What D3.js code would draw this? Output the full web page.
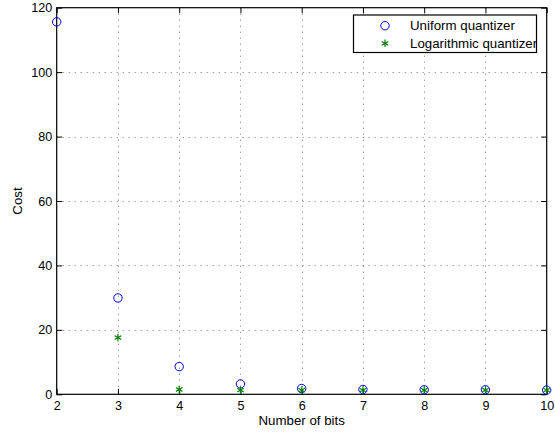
<!DOCTYPE html>
<html>
<head>
<meta charset="utf-8">
<script src="https://cdn.jsdelivr.net/npm/d3@7"></script>
<style>
  body { margin: 0; background: #fff; }
  text { font-family: "Liberation Sans", Arial, Helvetica, sans-serif; }
</style>
</head>
<body>
<svg id="chart" width="555" height="436"></svg>
<script>
// data
const bits = [2, 3, 4, 5, 6, 7, 8, 9, 10];
const uniformCost = [115.6, 29.9, 8.6, 3.2, 1.8, 1.5, 1.4, 1.4, 1.3];
const logBits = [3, 4, 5, 6, 7, 8, 9, 10];
const logCost = [17.6, 1.5, 1.3, 1.3, 1.3, 1.3, 1.3, 1.3];
const xTicks = [2, 3, 4, 5, 6, 7, 8, 9, 10];
const yTicks = [0, 20, 40, 60, 80, 100, 120];
const seriesNames = ["Uniform quantizer", "Logarithmic quantizer"];

// plot box
const box = { left: 56.7, right: 546.7, top: 7.7, bottom: 394.3 };

const svg = d3.select("#chart");

const x = d3.scaleLinear().domain([2, 10]).range([box.left, box.right]);
const y = d3.scaleLinear().domain([0, 120]).range([box.bottom, box.top]);

// grid (dotted, grey)
const grid = svg.append("g").attr("class", "grid");
grid.selectAll("line.gx").data(xTicks.slice(1, -1)).join("line")
  .attr("class", "gx")
  .attr("x1", d => Math.round(x(d)) + 0.5).attr("x2", d => Math.round(x(d)) + 0.5)
  .attr("y1", box.top).attr("y2", box.bottom)
  .attr("stroke", "#777").attr("stroke-width", 1)
  .attr("stroke-dasharray", "1,5");
grid.selectAll("line.gy").data(yTicks.slice(1, -1)).join("line")
  .attr("class", "gy")
  .attr("x1", box.left).attr("x2", box.right)
  .attr("y1", d => Math.round(y(d)) + 0.5).attr("y2", d => Math.round(y(d)) + 0.5)
  .attr("stroke", "#777").attr("stroke-width", 1)
  .attr("stroke-dasharray", "1,5");

// axes, ticks pointing inward
const fmt = d3.format("d");
svg.append("g")
  .attr("transform", `translate(0,${box.bottom})`)
  .call(d3.axisBottom(x).tickValues(xTicks).tickFormat(fmt).tickSizeInner(-5.5).tickSizeOuter(0).tickPadding(7))
  .call(g => g.select(".domain").remove())
  .call(g => g.selectAll("text").attr("font-size", 12.6).attr("fill", "#000"));
svg.append("g")
  .attr("transform", `translate(0,${box.top})`)
  .call(d3.axisTop(x).tickValues(xTicks).tickFormat("").tickSizeInner(-5.5).tickSizeOuter(0))
  .call(g => g.select(".domain").remove());
svg.append("g")
  .attr("transform", `translate(${box.left},0)`)
  .call(d3.axisLeft(y).tickValues(yTicks).tickFormat(fmt).tickSizeInner(-5.5).tickSizeOuter(0).tickPadding(4.5))
  .call(g => g.select(".domain").remove())
  .call(g => g.selectAll("text").attr("font-size", 12.6).attr("fill", "#000"));
svg.append("g")
  .attr("transform", `translate(${box.right},0)`)
  .call(d3.axisRight(y).tickValues(yTicks).tickFormat("").tickSizeInner(-5.5).tickSizeOuter(0))
  .call(g => g.select(".domain").remove());

svg.append("rect")
  .attr("x", box.left).attr("y", box.top)
  .attr("width", box.right - box.left).attr("height", box.bottom - box.top)
  .attr("fill", "none").attr("stroke", "#000").attr("stroke-width", 1.2);

// axis titles
svg.append("text")
  .attr("x", (box.left + box.right) / 2).attr("y", 425)
  .attr("text-anchor", "middle").attr("font-size", 13.3)
  .text("Number of bits");
svg.append("text")
  .attr("transform", `translate(21.5,${(box.top + box.bottom) / 2}) rotate(-90)`)
  .attr("text-anchor", "middle").attr("font-size", 13.3)
  .text("Cost");

// markers
const star = d3.symbol().type(d3.symbolAsterisk).size(40);
const uniform = bits.map((b, i) => ({ b, v: uniformCost[i] }));
const logq = logBits.map((b, i) => ({ b, v: logCost[i] }));

svg.append("g").selectAll("circle").data(uniform).join("circle")
  .attr("cx", d => x(d.b)).attr("cy", d => y(d.v)).attr("r", 4.2)
  .attr("fill", "none").attr("stroke", "#0000ff").attr("stroke-width", 1);

svg.append("g").selectAll("path").data(logq).join("path")
  .attr("d", star)
  .attr("transform", d => `translate(${x(d.b)},${y(d.v)})`)
  .attr("fill", "none").attr("stroke", "#008000").attr("stroke-width", 1.2);

// legend
const lg = svg.append("g");
lg.append("rect")
  .attr("x", 353.5).attr("y", 15).attr("width", 183).attr("height", 37.5)
  .attr("fill", "#fff").attr("stroke", "#000").attr("stroke-width", 1.2);
lg.append("circle")
  .attr("cx", 385).attr("cy", 25.7).attr("r", 4.2)
  .attr("fill", "none").attr("stroke", "#0000ff");
lg.append("path").attr("d", star)
  .attr("transform", "translate(385,43.3)")
  .attr("fill", "none").attr("stroke", "#008000").attr("stroke-width", 1.2);
lg.selectAll("text").data(seriesNames).join("text")
  .attr("x", 410).attr("y", (d, i) => 30.3 + i * 17.6)
  .attr("font-size", 13.3)
  .text(d => d);
</script>
</body>
</html>
